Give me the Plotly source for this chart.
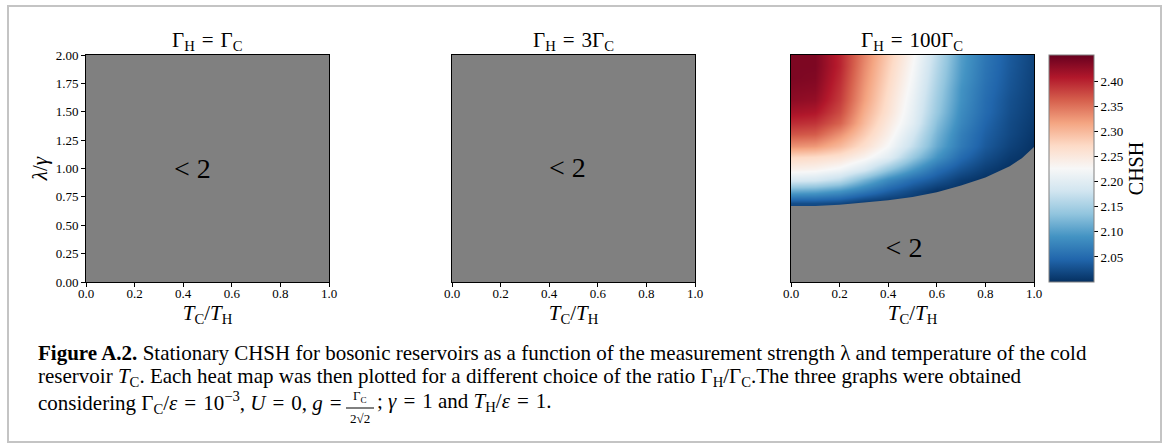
import plotly.graph_objects as go

W, H = 1165, 448

# ---------------- data ----------------
tc_th = [0.0, 0.1, 0.2, 0.3, 0.4, 0.5, 0.6, 0.7, 0.8, 0.9, 1.0]
lam = [0.6, 0.7, 0.8, 0.9, 1.0, 1.1, 1.2, 1.3, 1.4, 1.5, 1.6, 1.7, 1.8, 1.9, 2.0]
chsh_100 = [
    [2.000, 2.000, 2.000, 2.000, 2.000, 2.000, 2.000, 2.000, 2.000, 2.000, 2.000],
    [2.025, 2.025, 2.020, 2.005, 2.000, 2.000, 2.000, 2.000, 2.000, 2.000, 2.000],
    [2.110, 2.105, 2.090, 2.065, 2.040, 2.020, 2.003, 2.000, 2.000, 2.000, 2.000],
    [2.190, 2.185, 2.165, 2.120, 2.080, 2.050, 2.030, 2.010, 2.000, 2.000, 2.000],
    [2.240, 2.235, 2.220, 2.190, 2.140, 2.095, 2.055, 2.030, 2.012, 2.000, 2.000],
    [2.275, 2.270, 2.260, 2.235, 2.200, 2.140, 2.090, 2.050, 2.025, 2.008, 2.000],
    [2.330, 2.325, 2.300, 2.265, 2.225, 2.170, 2.110, 2.065, 2.035, 2.015, 2.002],
    [2.370, 2.365, 2.330, 2.285, 2.240, 2.185, 2.120, 2.070, 2.040, 2.020, 2.005],
    [2.395, 2.390, 2.360, 2.300, 2.250, 2.200, 2.130, 2.078, 2.045, 2.022, 2.008],
    [2.415, 2.410, 2.375, 2.310, 2.260, 2.205, 2.140, 2.083, 2.050, 2.025, 2.010],
    [2.430, 2.425, 2.385, 2.320, 2.265, 2.210, 2.145, 2.088, 2.052, 2.027, 2.012],
    [2.435, 2.432, 2.390, 2.325, 2.270, 2.215, 2.150, 2.090, 2.055, 2.030, 2.013],
    [2.440, 2.437, 2.395, 2.330, 2.275, 2.220, 2.155, 2.095, 2.058, 2.032, 2.014],
    [2.440, 2.440, 2.400, 2.335, 2.280, 2.225, 2.160, 2.098, 2.060, 2.034, 2.015],
    [2.440, 2.440, 2.400, 2.340, 2.285, 2.230, 2.165, 2.100, 2.062, 2.035, 2.016],
]
# boundary of the CHSH > 2 region (panel 3)
bound_x = [0.0, 0.1, 0.2, 0.3, 0.4, 0.5, 0.6, 0.7, 0.8, 0.9, 0.95, 1.0]
bound_lam = [0.67, 0.67, 0.68, 0.70, 0.72, 0.75, 0.79, 0.85, 0.92, 1.02, 1.09, 1.19]

EQ = "\u2004=\u2004"
titles = ["Γ<sub>H</sub>" + EQ + "Γ<sub>C</sub>", "Γ<sub>H</sub>" + EQ + "3Γ<sub>C</sub>",
          "Γ<sub>H</sub>" + EQ + "100Γ<sub>C</sub>"]
label_x = [0.438, 0.475, 0.465]
label_lam = [0.98, 0.99, 0.28]
x_ticks = [0.0, 0.2, 0.4, 0.6, 0.8, 1.0]
y_ticks = [0.0, 0.25, 0.5, 0.75, 1.0, 1.25, 1.5, 1.75, 2.0]
cb_ticks = [2.05, 2.10, 2.15, 2.20, 2.25, 2.30, 2.35, 2.40]
cmin, cmax = 2.0, 2.453

# ---------------- layout helpers ----------------
def px(x):
    return x / W

def py(y):
    return 1 - y / H

FONT = "Liberation Serif"
GRAY = "#808080"
panels_px = [(86, 329), (452, 695), (791, 1034)]
top_px, bot_px = 55, 282

fig = go.Figure()

fig.add_trace(go.Heatmap(
    x=tc_th, y=lam, z=chsh_100, zmin=cmin, zmax=cmax, zsmooth="best",
    colorscale="RdBu_r", xaxis="x3", yaxis="y3", hoverinfo="skip",
    colorbar=dict(
        x=px(1049), xanchor="left", xpad=0, y=py((top_px + bot_px) / 2),
        yanchor="middle", ypad=0, thickness=45, thicknessmode="pixels",
        len=bot_px - top_px, lenmode="pixels",
        tickvals=cb_ticks, ticktext=[f"{v:.2f}" for v in cb_ticks],
        ticks="outside", ticklen=4, tickcolor="black",
        tickfont=dict(family=FONT, size=13, color="black"),
        outlinewidth=1, outlinecolor=GRAY,
        title=dict(text="CHSH", side="right",
                   font=dict(family=FONT, size=20, color="black")),
    ),
))

fig.add_trace(go.Scatter(
    x=bound_x, y=bound_lam, mode="lines", fill="tozeroy",
    fillcolor=GRAY, line=dict(width=0, color=GRAY),
    xaxis="x3", yaxis="y3", hoverinfo="skip", showlegend=False,
))

for i in range(3):
    s = "" if i == 0 else str(i + 1)
    fig.add_trace(go.Scatter(
        x=[label_x[i]], y=[label_lam[i]], mode="text", text=["&lt; 2"],
        textfont=dict(family=FONT, size=28, color="black"),
        xaxis="x" + s, yaxis="y" + s, hoverinfo="skip", showlegend=False,
    ))

layout = dict(
    width=W, height=H, margin=dict(l=0, r=0, t=0, b=0, autoexpand=False),
    paper_bgcolor="white", plot_bgcolor=GRAY, showlegend=False,
    font=dict(family=FONT, color="black"),
)
for i, (x0, x1) in enumerate(panels_px):
    s = "" if i == 0 else str(i + 1)
    layout["xaxis" + s] = dict(
        domain=[px(x0), px(x1)], range=[0, 1], anchor="y" + s, automargin=False,
        showgrid=False, zeroline=False, showline=True, linecolor="black",
        linewidth=1, mirror=True, ticks="outside", ticklen=4, tickcolor="black",
        ticklabelstandoff=-5,
        tickvals=x_ticks, ticktext=[f"{v:.1f}" for v in x_ticks],
        tickfont=dict(family=FONT, size=13, color="black"),
        title=dict(text="<i>T</i><sub>C</sub>/<i>T</i><sub>H</sub>",
                   font=dict(family=FONT, size=21), standoff=0),
    )
    ya = dict(
        domain=[py(bot_px), py(top_px)], range=[0, 2], anchor="x" + s,
        automargin=False,
        showgrid=False, zeroline=False, showline=True, linecolor="black",
        linewidth=1, mirror=True,
    )
    if i == 0:
        ya.update(ticks="outside", ticklen=4, tickcolor="black",
                  tickvals=y_ticks, ticktext=[f"{v:.2f}" for v in y_ticks],
                  tickfont=dict(family=FONT, size=13, color="black"),
                  title=dict(text="<i>λ</i>/<i>γ</i>",
                             font=dict(family=FONT, size=21), standoff=2))
    else:
        ya.update(ticks="", showticklabels=False)
    layout["yaxis" + s] = ya

annotations = []
for i, (x0, x1) in enumerate(panels_px):
    annotations.append(dict(
        text=titles[i], x=px((x0 + x1) / 2), y=py(top_px + 1), xref="paper",
        yref="paper", xanchor="center", yanchor="bottom", showarrow=False,
        font=dict(family=FONT, size=21, color="black"),
    ))

cap_font = dict(family=FONT, size=21, color="black")
cap_lines = [
    "<b>Figure A.2.</b> Stationary CHSH for bosonic reservoirs as a function of the "
    "measurement strength λ and temperature of the cold",
    "reservoir <i>T</i><sub>C</sub>. Each heat map was then plotted for a different "
    "choice of the ratio Γ<sub>H</sub>/Γ<sub>C</sub>.The three graphs were obtained",
]
for k, (txt, yc) in enumerate(zip(cap_lines, [353, 377])):
    annotations.append(dict(
        text=txt, x=px(36), y=py(yc), xref="paper", yref="paper",
        xanchor="left", yanchor="middle", showarrow=False, font=cap_font,
    ))
annotations.append(dict(
    text="considering Γ<sub>C</sub>/<i>ε</i>" + EQ + "10<sup>−3</sup>, <i>U</i>" + EQ
         + "0, <i>g</i>" + EQ,
    x=px(36), y=py(402), xref="paper", yref="paper", xanchor="left",
    yanchor="middle", showarrow=False, font=cap_font,
))
frac_c = 360
annotations.append(dict(
    text="Γ<sub>C</sub>", x=px(frac_c), y=py(407), xref="paper", yref="paper",
    xanchor="center", yanchor="bottom", showarrow=False,
    font=dict(family=FONT, size=13, color="black"),
))
annotations.append(dict(
    text="2√2", x=px(frac_c), y=py(409), xref="paper", yref="paper",
    xanchor="center", yanchor="top", showarrow=False,
    font=dict(family=FONT, size=13, color="black"),
))
annotations.append(dict(
    text="; <i>γ</i>" + EQ + "1 and <i>T</i><sub>H</sub>/<i>ε</i>" + EQ + "1.",
    x=px(frac_c + 15), y=py(402), xref="paper", yref="paper", xanchor="left",
    yanchor="middle", showarrow=False, font=cap_font,
))
layout["annotations"] = annotations

layout["shapes"] = [
    dict(type="rect", xref="paper", yref="paper", x0=px(8), x1=px(1161),
         y0=py(442), y1=py(6), line=dict(color="#c4c4c4", width=2),
         fillcolor="rgba(0,0,0,0)", layer="below"),
    dict(type="line", xref="paper", yref="paper", x0=px(frac_c - 14),
         x1=px(frac_c + 14), y0=py(408), y1=py(408),
         line=dict(color="black", width=1)),
]

fig.update_layout(**layout)
fig.write_html("out.html")
